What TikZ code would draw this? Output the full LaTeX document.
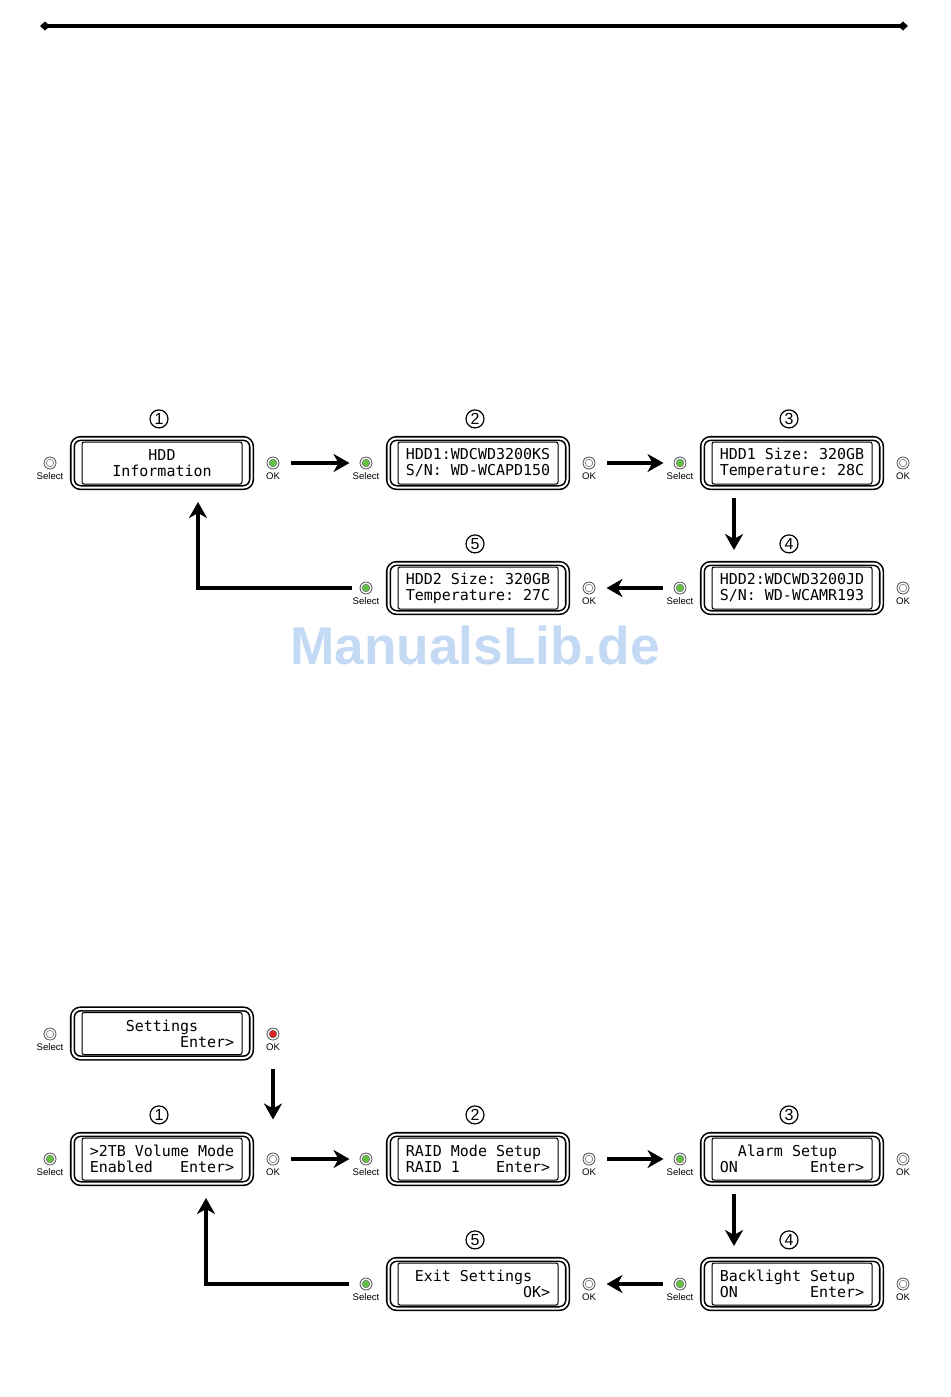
\documentclass[tikz,border=0pt]{standalone}
\usepackage{fontspec}
\setsansfont{Liberation Sans}
\newfontfamily\lcdfamily{DejaVu Sans Mono}
\usetikzlibrary{arrows.meta,positioning}

\definecolor{ledgreen}{RGB}{96,196,64}
\definecolor{ledred}{RGB}{226,32,32}
\definecolor{wmblue}{RGB}{196,218,244}

% one LCD line, 16 characters wide
\newcommand\LcdRow[1]{\makebox[16\fontcharwd\font`0][l]{\frenchspacing#1}}

\begin{document}
\begin{tikzpicture}[
  x=0.5pt, y=-0.5pt,
  node distance = 1pt,
LcdBox/.style={draw, double, line width=0.8pt, double distance=1pt,
               rounded corners=4pt, minimum width=89.5pt, minimum height=24.5pt,
               outer sep=0pt, inner sep=0pt, align=left,
               font={\lcdfamily\fontsize{7.5}{8}\selectfont}},
Screen/.style={line width=0.5pt, rounded corners=1pt},
Led/.style={circle, draw=black!70, line width=0.4pt, fill=white,
            minimum size=6pt, inner sep=0pt, outer sep=0pt,
            path picture={\draw[draw=black!55, line width=0.3pt, fill=#1]
                          (path picture bounding box.center) circle (1.9pt);}},
Led/.default=white,
LedLabel/.style={inner sep=0.5pt, font={\sffamily\fontsize{4.8}{5}\selectfont}},
NumCircle/.style={circle, draw, line width=0.6pt, minimum size=9pt, inner sep=0pt,
                  font={\sffamily\fontsize{8}{8}\selectfont}},
Arrow/.style={line width=2pt, -{Stealth[length=8pt, width=9pt, inset=2.5pt]},
              shorten <=6pt, shorten >=5.25pt},
  ]
\useasboundingbox (0,0) rectangle (950,1397);

% top rule
\coordinate (ruleL) at (40,26);
\coordinate (ruleR) at (908,26);
\draw [line width=2pt, {Diamond[length=5pt, width=4.5pt]}-{Diamond[length=5pt, width=4.5pt]}]
  (ruleL) -- (ruleR);

%% HDD information
\node [LcdBox] (a1) at (162,463) {\LcdRow{\hfill HDD\hfill}\\\LcdRow{\hfill Information\hfill}};
\node [LcdBox] (a2) at (478,463) {\LcdRow{HDD1:WDCWD3200KS}\\\LcdRow{S/N: WD-WCAPD150}};
\node [LcdBox] (a3) at (792,463) {\LcdRow{HDD1 Size: 320GB}\\\LcdRow{Temperature: 28C}};
\node [LcdBox] (a4) at (792,588) {\LcdRow{HDD2:WDCWD3200JD}\\\LcdRow{S/N: WD-WCAMR193}};
\node [LcdBox] (a5) at (478,588) {\LcdRow{HDD2 Size: 320GB}\\\LcdRow{Temperature: 27C}};

%% settings
\node [LcdBox] (bs) at (162,1033.5) {\LcdRow{~~~~Settings}\\\LcdRow{~~~~~~~~~~Enter>}};
\node [LcdBox] (b1) at (162,1159) {\LcdRow{>2TB Volume Mode}\\\LcdRow{Enabled~~~Enter>}};
\node [LcdBox] (b2) at (478,1159) {\LcdRow{RAID Mode Setup}\\\LcdRow{RAID 1~~~~Enter>}};
\node [LcdBox] (b3) at (792,1159) {\LcdRow{~~Alarm Setup}\\\LcdRow{ON~~~~~~~~Enter>}};
\node [LcdBox] (b4) at (792,1284) {\LcdRow{Backlight Setup}\\\LcdRow{ON~~~~~~~~Enter>}};
\node [LcdBox] (b5) at (478,1284) {\LcdRow{~Exit Settings}\\\LcdRow{~~~~~~~~~~~~~OK>}};

\foreach \b in {a1,a2,a3,a4,a5,bs,b1,b2,b3,b4,b5}
  \draw [Screen] ([shift={(-80,-21)}]\b.center) rectangle ([shift={(80,21)}]\b.center);

% step numbers
\node [NumCircle, above=5pt of a1, xshift=-1.5pt] (na1) {1};
\node [NumCircle, above=5pt of a2, xshift=-1.5pt] (na2) {2};
\node [NumCircle, above=5pt of a3, xshift=-1.5pt] (na3) {3};
\node [NumCircle, above=5pt of a4, xshift=-1.5pt] (na4) {4};
\node [NumCircle, above=5pt of a5, xshift=-1.5pt] (na5) {5};
\node [NumCircle, above=5pt of b1, xshift=-1.5pt] (nb1) {1};
\node [NumCircle, above=5pt of b2, xshift=-1.5pt] (nb2) {2};
\node [NumCircle, above=5pt of b3, xshift=-1.5pt] (nb3) {3};
\node [NumCircle, above=5pt of b4, xshift=-1.5pt] (nb4) {4};
\node [NumCircle, above=5pt of b5, xshift=-1.5pt] (nb5) {5};

% buttons
\foreach \nm/\x/\y/\col/\txt in {
    sa1/50/463/white/Select,     oa1/273/463/ledgreen/OK,
    sa2/366/463/ledgreen/Select, oa2/589/463/white/OK,
    sa3/680/463/ledgreen/Select, oa3/903/463/white/OK,
    sa4/680/588/ledgreen/Select, oa4/903/588/white/OK,
    sa5/366/588/ledgreen/Select, oa5/589/588/white/OK,
    sbs/50/1034/white/Select,    obs/273/1034/ledred/OK,
    sb1/50/1159/ledgreen/Select, ob1/273/1159/white/OK,
    sb2/366/1159/ledgreen/Select, ob2/589/1159/white/OK,
    sb3/680/1159/ledgreen/Select, ob3/903/1159/white/OK,
    sb4/680/1284/ledgreen/Select, ob4/903/1284/white/OK,
    sb5/366/1284/ledgreen/Select, ob5/589/1284/white/OK}
  {
  \node [Led=\col] (\nm) at (\x,\y) {};
  \node [LedLabel, below=of \nm] (t\nm) {\txt};
  }

%% arrows, HDD information
\draw [Arrow] (oa1) -- (sa2);
\draw [Arrow] (oa2) -- (sa3);
\draw [Arrow, shorten <=5.25pt, shorten >=6.75pt] ([xshift=-29pt]a3.south) -- ([xshift=-29pt]a4.north);
\draw [Arrow, shorten <=5.75pt, shorten >=5.75pt] (sa4) -- (oa5);
\draw [Arrow, shorten <=4.25pt, shorten >=7.25pt] (sa5) -| ([xshift=18pt]a1.south);

%% arrows, settings
\draw [Arrow, shorten <=14.25pt, shorten >=16.75pt] (obs) -- (ob1);
\draw [Arrow] (ob1) -- (sb2);
\draw [Arrow] (ob2) -- (sb3);
\draw [Arrow, shorten <=5.25pt, shorten >=6.75pt] ([xshift=-29pt]b3.south) -- ([xshift=-29pt]b4.north);
\draw [Arrow, shorten <=5.75pt, shorten >=5.75pt] (sb4) -- (ob5);
\draw [Arrow, shorten <=5.75pt, shorten >=7.25pt] (sb5) -| ([xshift=22pt]b1.south);

\node [text=wmblue, font={\sffamily\bfseries\fontsize{26.6}{28}\selectfont}] (wm) at (475,645) {ManualsLib.de};
\end{tikzpicture}
\end{document}
